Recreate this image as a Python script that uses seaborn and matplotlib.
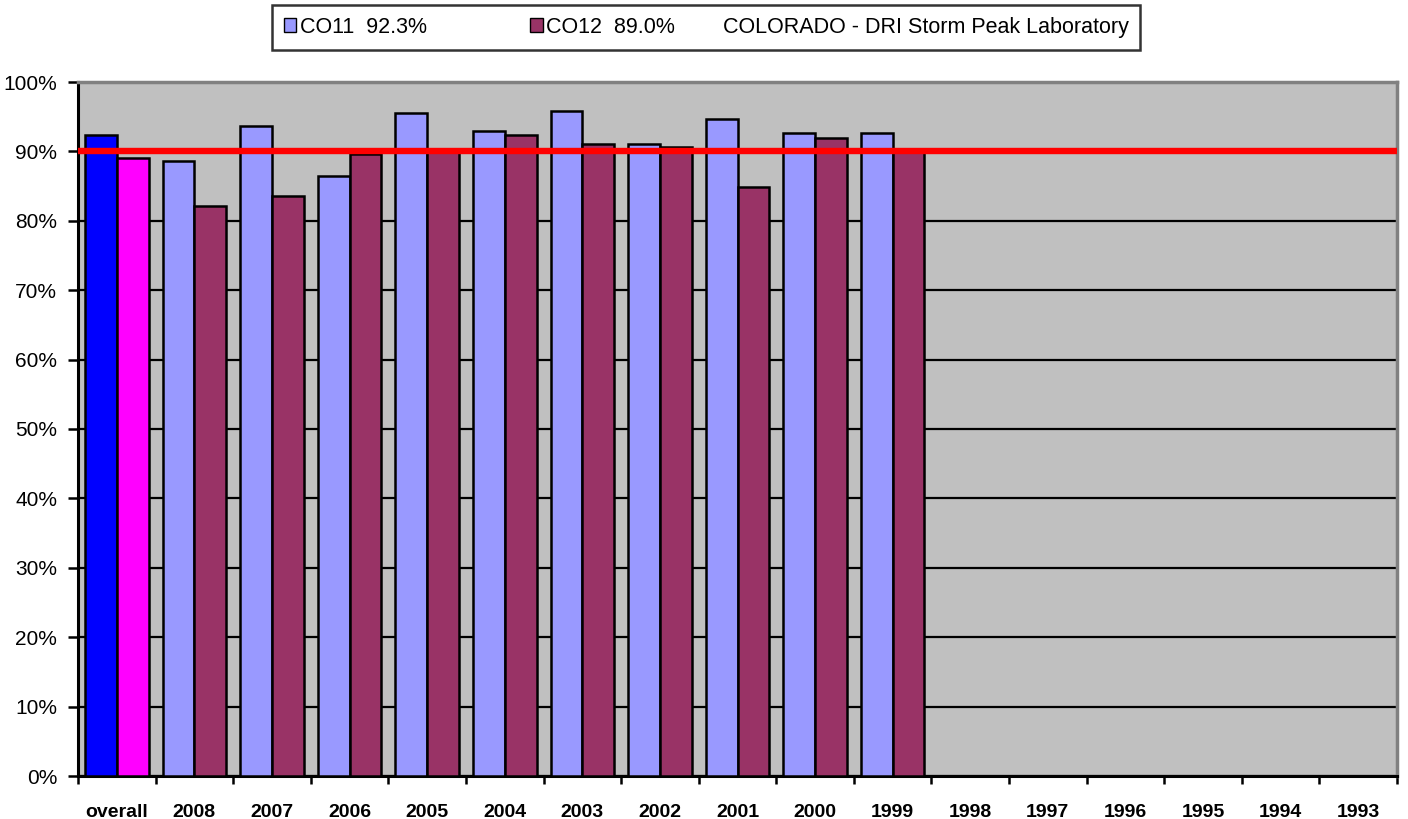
import matplotlib
matplotlib.use('Agg')
import matplotlib.pyplot as plt
import seaborn as sns
import pandas as pd
import numpy as np
from matplotlib.patches import Patch
from matplotlib.ticker import FixedLocator, FuncFormatter

# ---- data ----
categories = ['overall', '2008', '2007', '2006', '2005', '2004', '2003', '2002',
              '2001', '2000', '1999', '1998', '1997', '1996', '1995', '1994', '1993']
nan = np.nan
co11 = [92.3, 88.6, 93.7, 86.5, 95.6, 93.0, 95.8, 91.0, 94.6, 92.6, 92.6,
        nan, nan, nan, nan, nan, nan]
co12 = [89.0, 82.2, 83.6, 89.6, 90.2, 92.3, 91.0, 90.7, 84.8, 91.9, 90.0,
        nan, nan, nan, nan, nan, nan]
series_names = ['CO11', 'CO12']
legend_labels = ['CO11  92.3%', 'CO12  89.0%', 'COLORADO - DRI Storm Peak Laboratory']
target = 90
y_ticks = list(range(0, 101, 10))

df = pd.DataFrame({
    'year': categories * 2,
    'series': ['CO11'] * len(categories) + ['CO12'] * len(categories),
    'value': co11 + co12,
})

plt.rcParams['font.family'] = ['Liberation Sans', 'DejaVu Sans']

fig = plt.figure(figsize=(14.08, 8.19), dpi=100)
ax = fig.add_axes([78 / 1408, 1 - 776 / 819, (1397 - 78) / 1408, (776 - 82) / 819])
ax.set_facecolor('#C0C0C0')

sns.barplot(data=df, x='year', y='value', hue='series', order=categories,
            hue_order=series_names, palette=['#9999FF', '#993366'],
            saturation=1, edgecolor='black', linewidth=1.8, width=0.82,
            errorbar=None, legend=False, ax=ax, zorder=3)

# overall bars have their own colours
ax.containers[0][0].set_facecolor('#0000FF')
ax.containers[1][0].set_facecolor('#FF00FF')

ax.axhline(target, color='#FF0000', lw=4.6, zorder=5)

ax.set_xlim(-0.5, len(categories) - 0.5)
ax.set_ylim(0, 100)
ax.set_yticks(y_ticks)
ax.yaxis.set_major_formatter(FuncFormatter(lambda v, p: f'{int(v)}%'))
ax.set_axisbelow(True)
ax.yaxis.grid(True, color='black', lw=1.6, zorder=0)
ax.xaxis.grid(False)

# x: labels at centres, tick marks at boundaries
ax.set_xticks(range(len(categories)))
ax.set_xticklabels(categories, fontsize=14, fontweight='bold')
ax.xaxis.set_minor_locator(FixedLocator(np.arange(-0.5, len(categories), 1.0)))
ax.tick_params(axis='x', which='major', length=0, pad=20)
ax.tick_params(axis='x', which='minor', length=6, width=1.8, color='black', direction='out')
ax.tick_params(axis='y', length=7, width=1.8, color='black', direction='out',
               labelsize=15, pad=8)

for s in ['left', 'bottom']:
    ax.spines[s].set_color('black')
    ax.spines[s].set_linewidth(2.2)
for s in ['top', 'right']:
    ax.spines[s].set_color('#808080')
    ax.spines[s].set_linewidth(2.5)

ax.set_xlabel('')
ax.set_ylabel('')

handles = [Patch(facecolor='#9999FF', edgecolor='black', lw=1),
           Patch(facecolor='#993366', edgecolor='black', lw=1),
           Patch(facecolor='none', edgecolor='none')]
labels = [legend_labels[0] + ' ' * 14, legend_labels[1] + '  ', legend_labels[2]]
leg = fig.legend(handles, labels, ncol=3, loc='upper center',
                 bbox_to_anchor=(706 / 1408, 1 - 5 / 819), frameon=True,
                 fancybox=False, edgecolor='black', fontsize=15.5,
                 handlelength=0.6, handleheight=0.6, handletextpad=0.15,
                 columnspacing=0.9, borderpad=0.55, borderaxespad=0)
leg.get_frame().set_linewidth(1.8)

fig.savefig('out.png', dpi=100, facecolor='white')
